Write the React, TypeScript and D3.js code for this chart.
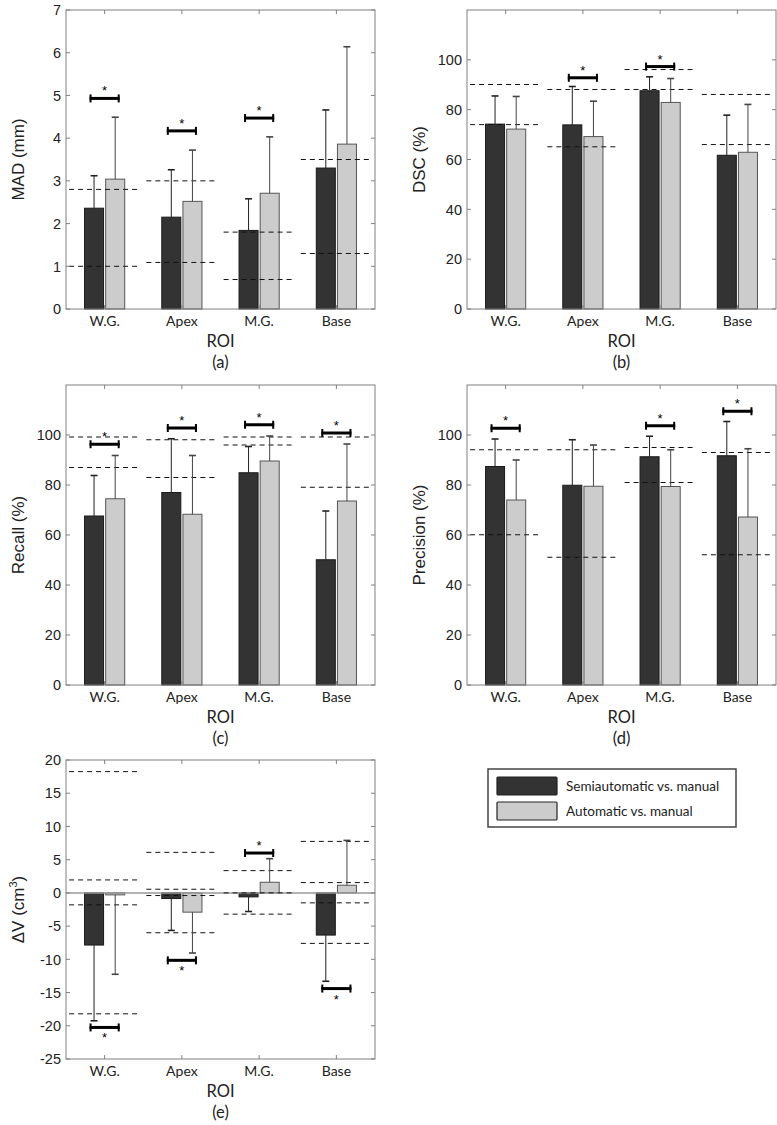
import React from "react";
import * as d3 from "d3";

const categories = ["W.G.", "Apex", "M.G.", "Base"];
const seriesNames = ["Semiautomatic vs. manual", "Automatic vs. manual"];

// (a) MAD (mm)
const madSemi = [2.36, 2.15, 1.84, 3.3];
const madSemiErr = [3.12, 3.26, 2.58, 4.66];
const madAuto = [3.04, 2.52, 2.71, 3.86];
const madAutoErr = [4.49, 3.72, 4.03, 6.14];
const madLimits = [[2.8, 1.0], [3.0, 1.09], [1.8, 0.69], [3.5, 1.3]];
const madSig = [4.93, 4.17, 4.47, null];
const madTicks = [0, 1, 2, 3, 4, 5, 6, 7];

// (b) DSC (%)
const dscSemi = [74.2, 73.9, 87.6, 61.7];
const dscSemiErr = [85.5, 89.3, 93.2, 77.8];
const dscAuto = [72.2, 69.2, 82.9, 62.9];
const dscAutoErr = [85.3, 83.4, 92.5, 82.1];
const dscLimits = [[90.1, 74.0], [88.1, 65.1], [96.1, 88.1], [86.1, 66.0]];
const dscSig = [null, 92.8, 97.3, null];

// (c) Recall (%)
const recSemi = [67.6, 77.0, 84.9, 50.1];
const recSemiErr = [83.8, 98.5, 95.4, 69.6];
const recAuto = [74.5, 68.3, 89.6, 73.6];
const recAutoErr = [91.8, 91.8, 99.6, 96.4];
const recLimits = [[99.2, 87.0], [98.1, 83.0], [99.2, 96.0], [99.2, 79.1]];
const recSig = [96.3, 102.8, 104.1, 100.8];

// (d) Precision (%)
const preSemi = [87.4, 79.9, 91.3, 91.7];
const preSemiErr = [98.4, 98.1, 99.5, 105.4];
const preAuto = [74.0, 79.5, 79.4, 67.2];
const preAutoErr = [90.0, 96.0, 94.1, 94.5];
const preLimits = [[94.1, 60.1], [94.1, 51.1], [95.0, 81.0], [93.0, 52.1]];
const preSig = [102.7, null, 103.7, 109.5];

const pctTicks = [0, 20, 40, 60, 80, 100];

// (e) ΔV (cm3)
const dvSemi = [-7.85, -0.85, -0.6, -6.35];
const dvSemiErr = [-19.25, -5.65, -2.8, -13.3];
const dvAuto = [-0.3, -2.9, 1.6, 1.15];
const dvAutoErr = [-12.25, -9.05, 5.15, 7.9];
const dvLimits = [[18.25, 1.95, -1.8, -18.2], [6.1, 0.55, -0.4, -6.0], [3.35, 0.0, -3.2], [7.75, 1.55, -1.5, -7.6]];
const dvSig = [-20.25, -10.15, 6.0, -14.4];
const dvTicks = [-25, -20, -15, -10, -5, 0, 5, 10, 15, 20];

const SANS = "'Liberation Sans', Arial, sans-serif";
const LATO = "Lato, 'Open Sans', sans-serif";
const DARK = "#333333";
const LIGHT = "#cccccc";
const FRAME = "#808080";

type PanelProps = {
  left: number; top: number; right: number; bottom: number;
  domain: [number, number]; ticks: number[];
  semi: number[]; semiErr: number[]; auto: number[]; autoErr: number[];
  limits: number[][]; sig: (number | null)[];
  yTitle: React.ReactNode; letter: string; zeroLine?: boolean;
};

function Panel(p: PanelProps) {
  const y = d3.scaleLinear().domain(p.domain).range([p.bottom, p.top]);
  const x0 = d3.scaleBand<string>().domain(categories).range([p.left, p.right]);
  const bw = x0.bandwidth();
  const x1 = d3.scaleBand<string>().domain(seriesNames).range([bw * 0.24, bw * 0.76]).paddingInner(0.1);
  const barW = x1.bandwidth();
  const base = y(0);
  const midY = (p.top + p.bottom) / 2;
  const midX = (p.left + p.right) / 2;
  const series = [
    { name: seriesNames[0], vals: p.semi, errs: p.semiErr, fill: DARK, stroke: "#1a1a1a", err: "#222" },
    { name: seriesNames[1], vals: p.auto, errs: p.autoErr, fill: LIGHT, stroke: "#555", err: "#444" },
  ];
  return (
    <g>
      {/* bars */}
      {series.map((s) =>
        categories.map((c, i) => {
          const bx = (x0(c) as number) + (x1(s.name) as number);
          const vy = y(s.vals[i]);
          return (
            <rect key={s.name + c} x={bx} y={Math.min(vy, base)} width={barW}
              height={Math.max(Math.abs(base - vy), 0.5)} fill={s.fill} stroke={s.stroke} strokeWidth={1} />
          );
        })
      )}
      {p.zeroLine && (
        <line x1={p.left} x2={p.right} y1={base} y2={base} stroke="#999" strokeWidth={1.5} />
      )}
      {/* dashed limit lines */}
      {categories.map((c, i) => {
        const cx = (x0(c) as number) + bw / 2;
        return p.limits[i].map((v, k) => (
          <line key={c + k} x1={Math.max(p.left, cx - bw * 0.46)} x2={cx + bw * 0.42} y1={y(v)} y2={y(v)}
            stroke="#111" strokeWidth={1} strokeDasharray="5,4" />
        ));
      })}
      {/* error bars */}
      {series.map((s) =>
        categories.map((c, i) => {
          const cx = (x0(c) as number) + (x1(s.name) as number) + barW / 2;
          return (
            <g key={"e" + s.name + c}>
              <line x1={cx} x2={cx} y1={y(s.vals[i])} y2={y(s.errs[i])} stroke={s.err} strokeWidth={1} />
              <line x1={cx - 3.5} x2={cx + 3.5} y1={y(s.errs[i])} y2={y(s.errs[i])} stroke={s.err} strokeWidth={1.6} />
            </g>
          );
        })
      )}
      {/* significance bars */}
      {categories.map((c, i) => {
        const v = p.sig[i];
        if (v === null) return null;
        const c0 = (x0(c) as number) + (x1(seriesNames[0]) as number) + barW / 2 - 4.5;
        const c1 = (x0(c) as number) + (x1(seriesNames[1]) as number) + barW / 2 + 4.5;
        const sy = y(v);
        const below = v < 0;
        return (
          <g key={"s" + c}>
            <line x1={c0} x2={c1} y1={sy} y2={sy} stroke="#000" strokeWidth={3} />
            <line x1={c0 + 1} x2={c0 + 1} y1={sy - 4} y2={sy + 4} stroke="#000" strokeWidth={2} />
            <line x1={c1 - 1} x2={c1 - 1} y1={sy - 4} y2={sy + 4} stroke="#000" strokeWidth={2} />
            <text x={(c0 + c1) / 2} y={below ? sy + 15 : sy - 3} textAnchor="middle" fontFamily={SANS} fontSize={13} fill="#000">*</text>
          </g>
        );
      })}
      {/* frame */}
      <rect x={p.left} y={p.top} width={p.right - p.left} height={p.bottom - p.top} fill="none" stroke={FRAME} strokeWidth={1} />
      {/* y ticks */}
      {p.ticks.map((t) => (
        <g key={"yt" + t}>
          <line x1={p.left} x2={p.left + 4} y1={y(t)} y2={y(t)} stroke={FRAME} />
          <line x1={p.right} x2={p.right - 4} y1={y(t)} y2={y(t)} stroke={FRAME} />
          <text x={p.left - 5} y={y(t)} dy="0.36em" textAnchor="end" fontFamily={SANS} fontSize={14.5} fill="#222">{t}</text>
        </g>
      ))}
      {/* x ticks */}
      {categories.map((c) => {
        const cx = (x0(c) as number) + bw / 2;
        return (
          <g key={"xt" + c}>
            <line x1={cx} x2={cx} y1={p.bottom} y2={p.bottom - 4} stroke={FRAME} />
            <line x1={cx} x2={cx} y1={p.top} y2={p.top + 4} stroke={FRAME} />
            <text x={cx} y={p.bottom + 17} textAnchor="middle" fontFamily={LATO} fontSize={14} fill="#222">{c}</text>
          </g>
        );
      })}
      <text x={midX} y={p.bottom + 38} textAnchor="middle" fontFamily={LATO} fontSize={16.5} fill="#222">ROI</text>
      <text x={midX} y={p.bottom + 59} textAnchor="middle" fontFamily={LATO} fontSize={16.5} fill="#222">{p.letter}</text>
      <text transform={`translate(${p.left - 48},${midY}) rotate(-90)`} textAnchor="middle" dy="0.35em"
        fontFamily={SANS} fontSize={17} fill="#222">{p.yTitle}</text>
    </g>
  );
}

export default function App() {
  return (
    <svg width={777} height={1125} style={{ position: "absolute", left: 0, top: 0, background: "#fff" }}>
      <rect width={777} height={1125} fill="#fff" />
      <Panel left={66} top={10} right={375} bottom={309} domain={[0, 7]} ticks={madTicks}
        semi={madSemi} semiErr={madSemiErr} auto={madAuto} autoErr={madAutoErr} limits={madLimits} sig={madSig}
        yTitle="MAD (mm)" letter="(a)" />
      <Panel left={467} top={10} right={776} bottom={309} domain={[0, 120]} ticks={pctTicks}
        semi={dscSemi} semiErr={dscSemiErr} auto={dscAuto} autoErr={dscAutoErr} limits={dscLimits} sig={dscSig}
        yTitle="DSC (%)" letter="(b)" />
      <Panel left={66} top={385} right={375} bottom={685} domain={[0, 120]} ticks={pctTicks}
        semi={recSemi} semiErr={recSemiErr} auto={recAuto} autoErr={recAutoErr} limits={recLimits} sig={recSig}
        yTitle="Recall (%)" letter="(c)" />
      <Panel left={467} top={385} right={776} bottom={685} domain={[0, 120]} ticks={pctTicks}
        semi={preSemi} semiErr={preSemiErr} auto={preAuto} autoErr={preAutoErr} limits={preLimits} sig={preSig}
        yTitle="Precision (%)" letter="(d)" />
      <Panel left={66} top={760} right={375} bottom={1059} domain={[-25, 20]} ticks={dvTicks}
        semi={dvSemi} semiErr={dvSemiErr} auto={dvAuto} autoErr={dvAutoErr} limits={dvLimits} sig={dvSig}
        zeroLine={true} letter="(e)"
        yTitle={<><tspan>ΔV (cm</tspan><tspan dy={-7} fontSize={11}>3</tspan><tspan dy={7}>)</tspan></>} />
      {/* legend */}
      <g>
        <rect x={488} y={769} width={248} height={58} fill="#fff" stroke="#444" strokeWidth={1.5} />
        {seriesNames.map((s, i) => (
          <g key={s}>
            <rect x={497} y={777 + i * 25} width={60} height={18} fill={i === 0 ? DARK : LIGHT} stroke="#222" strokeWidth={1.2} rx={1} />
            <text x={566} y={786 + i * 25} dy="0.35em" fontFamily={LATO} fontSize={13.5} fill="#222">{s}</text>
          </g>
        ))}
      </g>
    </svg>
  );
}
